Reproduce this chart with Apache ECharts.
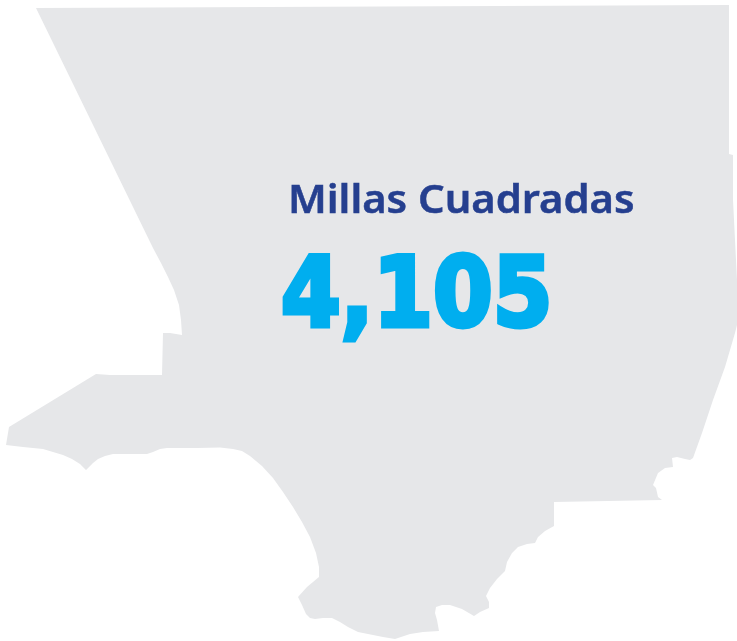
<!DOCTYPE html>
<html>
<head>
<meta charset="utf-8">
<style>html,body{margin:0;padding:0;background:#fff}#main{width:737px;height:641px}</style>
<script src="https://cdn.jsdelivr.net/npm/echarts@6/dist/echarts.min.js"></script>
</head>
<body>
<div id="main"></div>
<script>
var regionName = 'Los Angeles';
var metricLabel = 'Millas Cuadradas';
var metricValue = 4105;

// county outline
var northEdge = [[36,8],[729,5],[729,154],[733,155]];
var eastEdge = [[733,200],[735,240],[737,280],[737,325],[735,333],[725,367],[713,400],[702,433],[693,458],[690,460],[685,459],[677,457],[672,458],[673,467],[665,468],[658,473],[653,485],[656,488],[658,497],[662,500]];
var southEdge = [[554,502],[554,526],[545,531],[538,537],[535,543],[527,544],[518,547],[512,553],[507,562],[505,571],[497,579],[490,588],[486,596],[489,602],[489,608],[480,612],[474,616],[462,609],[450,605],[442,605],[436,607],[435,613],[437,620],[439,631],[423,632],[410,634],[395,639],[383,637],[368,634],[358,632],[348,627],[340,622],[332,618],[323,618],[315,619],[310,618],[306,614],[302,605],[298,597],[307,587],[319,577]];
var coastEdge = [[319,567],[316,553],[310,537],[302,522],[293,507],[283,492],[273,478],[262,466],[250,456],[242,451],[233,449],[220,447.5],[197,448],[167,448],[160,449],[153,452],[147,454],[133,454],[113,454],[105,456],[98,459],[93,463],[86,470],[80,464],[72,459],[63,455],[53,452],[43,449],[33,448],[23,447],[6,445],[9,427]];
var westEdge = [[96,374],[110,375],[162,375],[163,333],[170,333],[182,335],[181,320],[179,305],[174,290],[168,277],[161,263],[153,248]];

var outline = [].concat(northEdge, eastEdge, southEdge, coastEdge, westEdge, [northEdge[0]]);

echarts.registerMap('county', {
    type: 'FeatureCollection',
    features: [{
        type: 'Feature',
        properties: { name: regionName },
        geometry: { type: 'Polygon', coordinates: [outline] }
    }]
});

var chart = echarts.init(document.getElementById('main'));
chart.setOption({
    animation: false,
    backgroundColor: '#ffffff',
    graphic: [{
        type: 'text',
        x: 288,
        y: 182,
        scaleX: 1.07,
        z: 10,
        style: {
            text: metricLabel,
            fill: '#253f8f',
            stroke: '#253f8f',
            lineWidth: 0.5,
            font: '600 39px "Noto Sans"'
        }
    }, {
        type: 'text',
        x: 281,
        y: 252,
        scaleX: 0.885,
        z: 10,
        style: {
            text: metricValue.toLocaleString('en-US'),
            fill: '#00aeef',
            stroke: '#00aeef',
            lineWidth: 5,
            lineJoin: 'miter',
            font: 'bold 97px "DejaVu Sans"'
        }
    }],
    series: [{
        type: 'map',
        map: 'county',
        silent: true,
        projection: {
            project: function (p) { return [p[0], p[1]]; },
            unproject: function (p) { return [p[0], p[1]]; }
        },
        left: 6,
        top: 5,
        width: 731,
        height: 634,
        label: { show: false },
        itemStyle: { areaColor: '#e6e7e9', borderWidth: 0 },
        data: [{ name: regionName, value: metricValue }]
    }]
});
</script>
</body>
</html>
